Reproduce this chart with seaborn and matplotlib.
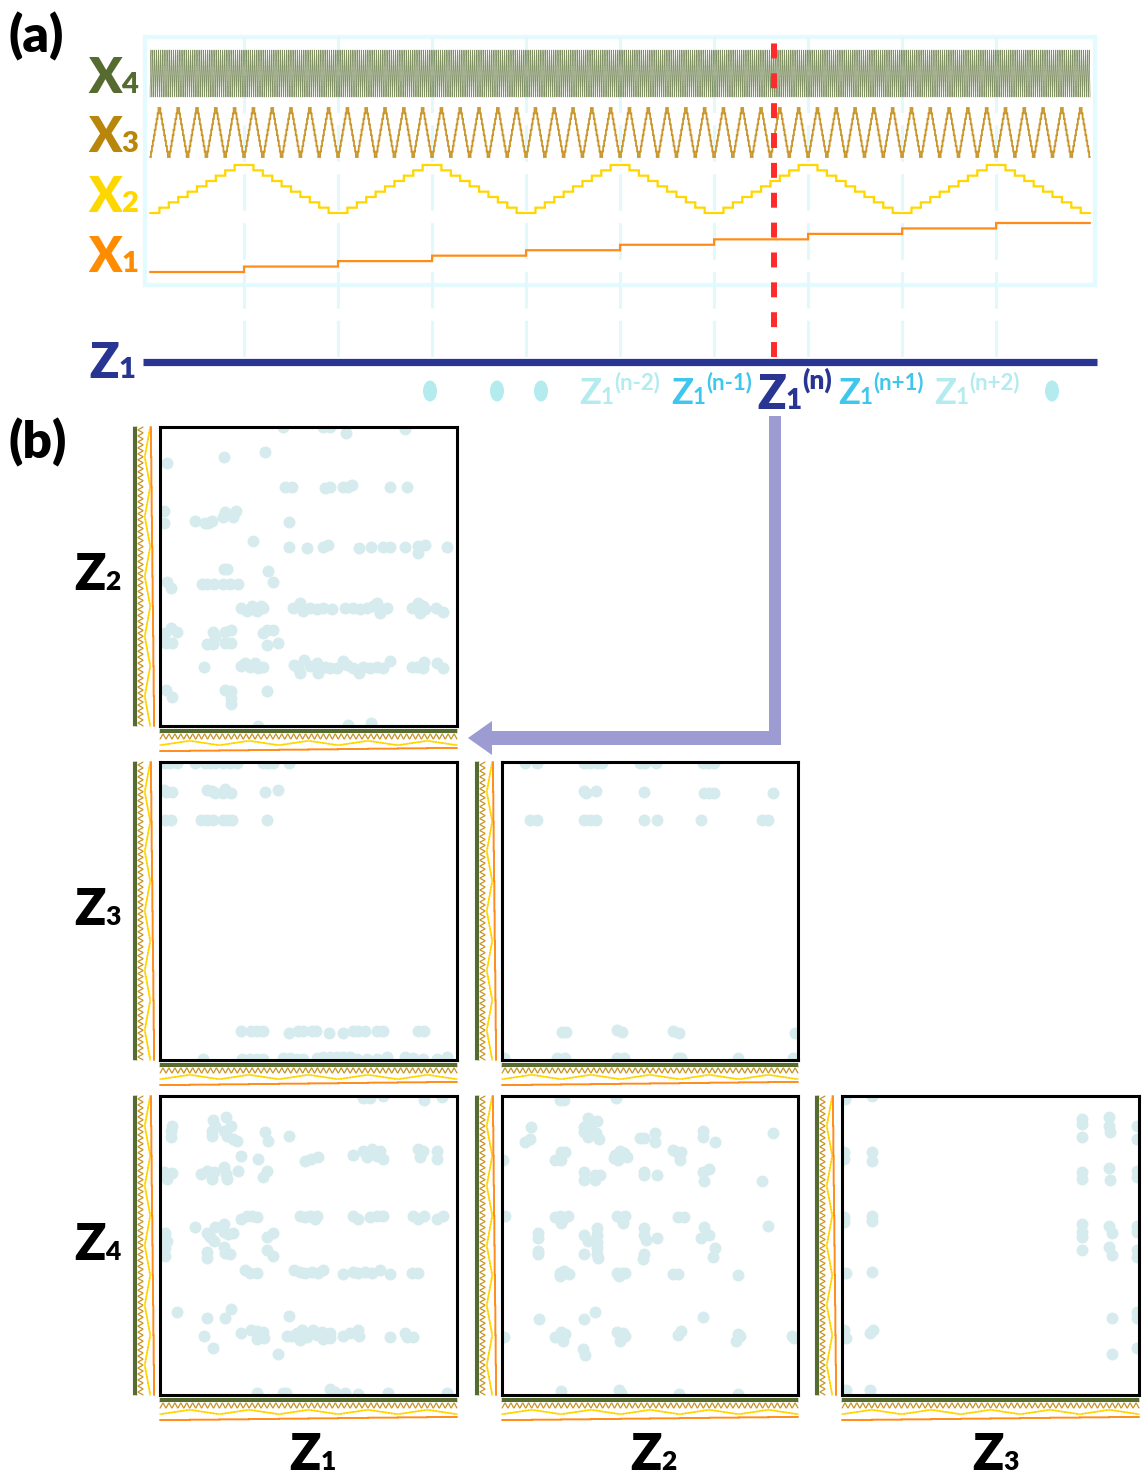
import numpy as np
import pandas as pd
import matplotlib
matplotlib.use("Agg")
import matplotlib.pyplot as plt
import seaborn as sns
from matplotlib.patches import Rectangle, Polygon, Ellipse

sns.set_theme(style="white")
plt.rcParams["font.family"] = ["Lato", "DejaVu Sans"]

W, H = 1148, 1476

# ---------------- data ----------------
x1_levels = [0, 1, 2, 3, 4, 5, 6, 7, 8, 9]
x2_levels = [0, 1, 2, 3, 4, 5, 6, 7, 8, 9]
x3_levels = [0, 1, 2, 3, 4, 5, 6, 7, 8, 9]
x4_levels = [0, 1, 2, 3, 4, 5, 6, 7, 8, 9]
cursor_step = 6633  # sample marked by the red dashed line (Z1^(n))

z2_vs_z1 = [(123,298),(163,298),(170,298),(186,292),(245,296),(105,273),(64,268),(7,262),
            (125,238),(132,238),(165,237),(170,238),(183,238),(188,238),(192,240),(230,238),(247,238),
            (4,214),(4,202),(65,213),(63,208),(73,208),(76,214),(35,204),(45,202),(48,202),(52,204),(129,203),
            (93,184),(129,178),(147,177),(163,178),(168,180),(199,177),(211,178),(223,178),(230,178),(245,178),
            (258,179),(258,172),(265,180),(287,178),(64,156),(67,156),(108,154),(113,144),
            (7,144),(11,138),(42,142),(47,142),(54,142),(63,142),(70,142),(78,142),
            (81,118),(87,115),(92,120),(97,115),(101,120),(103,118),(133,118),(140,123),(143,115),(150,118),
            (157,117),(163,118),(172,117),(185,118),(193,118),(200,117),(207,118),(213,120),(217,123),(220,113),
            (227,118),(252,118),(258,123),(263,120),(260,113),(265,117),(276,118),(283,114),
            (5,93),(11,98),(17,94),(53,94),(55,89),(65,94),(71,96),(103,93),(107,96),(113,96),
            (6,83),(12,83),(47,82),(53,82),(65,83),(71,83),(107,81),(118,83),
            (44,59),(81,60),(85,63),(90,59),(95,63),(98,58),(103,59),(134,61),(138,58),(144,66),(150,60),
            (157,63),(158,53),(165,59),(170,58),(177,58),(183,65),(187,61),(193,58),(199,53),(203,59),(210,58),
            (217,59),(223,58),(230,65),(252,59),(257,59),(264,64),(263,58),(277,63),(283,58),(140,53),
            (6,36),(12,29),(65,36),(71,35),(71,28),(71,22),(107,35),(98,0),(188,1),(211,3)]

z3_vs_z1 = [(5,297),(10,297),(17,297),(35,297),(45,297),(50,297),(55,297),(63,297),(70,297),(77,297),
            (103,297),(108,297),(113,297),(129,297),
            (4,270),(6,268),(12,268),(47,270),(52,269),(55,267),(63,267),(65,271),(71,267),(105,268),(118,270),
            (5,240),(11,240),(41,240),(47,240),(53,240),(63,240),(67,240),(72,240),(107,240),
            (81,29),(91,29),(97,29),(103,29),(129,27),(138,29),(143,29),(152,29),(156,29),(169,27),(183,27),
            (193,29),(198,29),(205,29),(217,29),(223,29),(258,29),(264,29),
            (43,1),(82,1),(90,1),(97,1),(103,1),(123,2),(130,2),(137,1),(143,1),(157,2),(163,3),(170,3),
            (177,3),(183,3),(190,3),(197,1),(207,1),(217,1),(227,3),(245,3),(253,2),(263,1),(277,1),(287,3)]

z3_vs_z2 = [(23,297),(35,297),(82,297),(88,297),(95,297),(100,297),(138,297),(143,297),(155,297),
            (202,297),(207,297),(213,297),
            (82,269),(84,267),(94,269),(142,268),(203,267),(208,267),(213,267),(272,267),
            (28,240),(35,240),(82,240),(88,240),(94,240),(142,240),(156,240),(200,240),(261,240),(267,240),
            (60,28),(64,28),(115,30),(120,28),(172,29),(178,27),(294,27),
            (2,2),(55,2),(63,2),(115,2),(122,2),(177,2),(180,2),(237,2),(292,2)]

z4_vs_z1 = [(203,296),(210,296),(223,298),(264,294),(282,297),
            (12,268),(11,263),(11,257),(53,274),(66,277),(55,268),(52,263),(52,258),(71,268),(64,263),
            (67,258),(73,255),(77,253),(105,262),(108,253),(129,258),
            (81,238),(98,235),(145,233),(151,235),(158,237),(193,239),(203,243),(207,237),(212,245),
            (217,238),(220,243),(223,235),(258,245),(263,243),(260,237),(277,243),(277,235),
            (4,222),(7,215),(12,221),(41,220),(47,223),(52,215),(54,222),(64,227),(66,220),(67,215),
            (78,223),(103,217),(107,223),
            (81,175),(87,178),(92,178),(97,177),(140,178),(145,177),(150,178),(155,175),(157,178),
            (193,178),(198,175),(210,177),(217,178),(223,178),(253,178),(258,175),(264,178),(277,175),(283,178),
            (35,167),(5,161),(7,153),(5,147),(5,139),(47,161),(50,157),(55,167),(64,170),(64,162),(68,160),
            (73,161),(54,153),(64,148),(65,142),(70,141),(47,143),(47,137),(107,157),(113,161),(107,145),(113,139),
            (85,125),(90,122),(97,122),(134,125),(140,123),(145,122),(152,123),(158,122),(163,125),
            (183,121),(193,123),(198,122),(205,123),(212,122),(220,125),(230,121),(252,122),(258,122),
            (17,83),(47,77),(65,77),(71,86),(129,79),
            (44,59),(81,62),(91,65),(97,64),(103,63),(97,56),(104,57),(127,59),(132,59),(137,62),(142,65),
            (147,58),(153,65),(157,60),(162,63),(163,56),(170,62),(170,57),(183,59),(190,62),(198,65),
            (199,59),(230,58),(245,62),(247,58),(253,58),(140,55),(53,47),(118,41),
            (97,2),(123,2),(126,2),(170,6),(175,3),(185,2),(198,1),(228,2),(287,2)]

z4_vs_z2 = [(58,294),(62,294),(114,296),(29,267),(23,252),(28,255),(86,276),(95,273),(82,267),(88,267),
            (82,262),(94,261),(86,257),(97,255),(138,256),(142,256),(154,261),(154,252),(202,263),(202,257),
            (214,252),(272,261),
            (1,234),(53,234),(59,234),(59,242),(63,242),(113,239),(116,234),(118,243),(122,241),(125,237),
            (112,236),(172,244),(177,241),(179,234),(180,242),
            (82,222),(82,214),(93,219),(98,219),(93,214),(142,222),(142,219),(156,219),(202,222),(208,225),
            (203,213),(261,213),
            (3,178),(53,177),(58,178),(62,176),(66,178),(59,171),(115,178),(119,176),(123,178),(121,171),
            (177,177),(183,177),(267,168),
            (36,161),(36,156),(36,144),(36,141),(82,159),(86,153),(95,166),(95,159),(95,152),(95,147),
            (95,141),(96,137),(82,141),(142,166),(142,159),(144,154),(142,141),(141,136),(156,156),
            (203,167),(208,159),(200,156),(214,147),(212,138),
            (58,122),(62,124),(67,121),(58,119),(115,122),(120,122),(123,122),(117,119),(172,121),(177,121),(237,120),
            (37,76),(82,76),(93,83),(202,78),
            (2,58),(53,58),(59,63),(63,61),(61,54),(115,63),(121,62),(123,59),(118,54),(177,60),(180,64),
            (237,61),(235,54),(239,59),(291,59),(293,57),(81,46),(83,40),
            (59,4),(117,5),(119,2),(178,1),(237,1)]

z4_vs_z3 = [(3,295),(30,298),
            (2,242),(2,235),(2,177),(2,172),(4,122),(2,65),(4,57),(4,5),
            (30,242),(30,233),(30,178),(30,173),(30,123),(28,62),(31,65),(28,5),
            (240,275),(240,270),(240,257),(240,222),(240,215),(240,170),(240,162),(240,157),(240,145),
            (267,277),(267,268),(268,262),(267,226),(268,214),(267,168),(270,161),(267,148),(270,140),
            (270,77),(270,41),
            (295,268),(295,255),(295,223),(295,217),(295,168),(295,162),(295,145),(295,138),(295,83),
            (295,77),(295,47)]

# ---------------- the boustrophedon sweep of the four inputs ----------------
n1, n2, n3, n4 = len(x1_levels), len(x2_levels), len(x3_levels), len(x4_levels)
N = n1 * n2 * n3 * n4
idx = np.arange(N)
i1 = idx // (n2 * n3 * n4)
i2 = (idx // (n3 * n4)) % n2
i3 = (idx // n4) % n3
i4 = idx % n4
i2 = np.where(i1 % 2 == 0, i2, n2 - 1 - i2)
i3 = np.where((idx // (n3 * n4)) % 2 == 0, i3, n3 - 1 - i3)
i4 = np.where((idx // n4) % 2 == 0, i4, n4 - 1 - i4)
sweep = pd.DataFrame({
    "t": idx,
    "X1": np.asarray(x1_levels)[i1],
    "X2": np.asarray(x2_levels)[i2],
    "X3": np.asarray(x3_levels)[i3],
    "X4": np.asarray(x4_levels)[i4],
})
segment_starts = sweep.loc[sweep["X1"].diff().fillna(0) != 0, "t"].tolist()

# ---------------- styling ----------------
C_X4, C_X3, C_X2, C_X1 = "#556b2f", "#c9972e", "#ffd600", "#ff8c1a"
L_X4, L_X3, L_X2, L_X1 = "#556b2f", "#b8860b", "#ffd700", "#ff8c00"
C_Z = "#283593"
C_LIGHT = "#b3ebef"
C_MID = "#3fc6ec"
C_DOT = "#d6ebed"
C_GRID = "#e2f9fc"

fig = plt.figure(figsize=(W / 100, H / 100), dpi=100, facecolor="white")


def px_axes(x0, y0, x1, y1, z=1):
    ax = fig.add_axes([x0 / W, 1 - y1 / H, (x1 - x0) / W, (y1 - y0) / H], zorder=z)
    ax.set_facecolor("none")
    return ax


def full_overlay(z):
    ax = fig.add_axes([0, 0, 1, 1], zorder=z)
    ax.set_xlim(0, W)
    ax.set_ylim(H, 0)
    ax.axis("off")
    ax.set_facecolor("none")
    return ax


bg = full_overlay(0)
fg = full_overlay(6)


def draw_signal(ax, name, color, lw, vertical=False, steps=False, alpha=1.0):
    kw = dict(color=color, linewidth=lw, estimator=None, sort=False, legend=False, ax=ax, alpha=alpha)
    if steps:
        kw["drawstyle"] = "steps-post"
    if vertical:
        sns.lineplot(data=sweep, x=name, y="t", orient="y", **kw)
        ax.set_ylim(0, N - 1)
        ax.set_xlim(max(x1_levels), 0)
    else:
        sns.lineplot(data=sweep, x="t", y=name, **kw)
        ax.set_xlim(0, N - 1)
        ax.set_ylim(0, max(x1_levels))
    for ln in ax.lines:
        ln.set_clip_on(False)
        ln.set_solid_joinstyle("miter")
    ax.axis("off")


# ---------------- panel (a) ----------------
bg.add_patch(Rectangle((145, 37), 950, 248, fill=False, ec="#e3fbfe", lw=3.0))
ax_grid = px_axes(150, 37, 1090, 357, z=0.5)
ax_grid.set_xlim(0, N - 1)
ax_grid.set_ylim(0, 1)
ax_grid.axis("off")
for s in segment_starts:
    ax_grid.axvline(s, color=C_GRID, lw=2.2, dashes=(12, 4))

sig_rows = [("X4", C_X4, 0.5, 50, 97, 0.75), ("X3", C_X3, 1.3, 108, 157, 1.0),
            ("X2", C_X2, 1.6, 165, 213, 1.0), ("X1", C_X1, 1.6, 223, 272, 1.0)]
for name, col, lw, y0, y1, al in sig_rows:
    ax = px_axes(150, y0, 1090, y1, z=2)
    draw_signal(ax, name, col, lw, steps=True, alpha=al)

ax_cur = px_axes(150, 41, 1090, 357, z=5)
ax_cur.set_xlim(0, N - 1)
ax_cur.set_ylim(0, 1)
ax_cur.axis("off")
ax_cur.axvline(cursor_step, color="#ff2b2b", lw=4.3, dashes=(2.5, 2.5), solid_capstyle="butt",
               dash_capstyle="butt")

fg.plot([143, 1097], [362, 362], color=C_Z, lw=5.2, solid_capstyle="butt")

renderer = fig.canvas.get_renderer()


def compound(ax, x, y, parts, color, weight="bold"):
    cx = x
    for txt, size, dy in parts:
        t = ax.text(cx, y + dy, txt, fontsize=size, color=color, fontweight=weight,
                    ha="left", va="baseline")
        cx += t.get_window_extent(renderer=renderer).width


compound(fg, 88, 93, [("X", 35, 0), ("4", 21, 0)], L_X4, weight="heavy")
compound(fg, 88, 152, [("X", 35, 0), ("3", 21, 0)], L_X3, weight="heavy")
compound(fg, 88, 212, [("X", 35, 0), ("2", 21, 0)], L_X2, weight="heavy")
compound(fg, 88, 272, [("X", 35, 0), ("1", 21, 0)], L_X1, weight="heavy")
compound(fg, 89, 378, [("Z", 35, 0), ("1", 21, 0)], C_Z, weight="heavy")

fg.text(8, 52, "(a)", fontsize=37, fontweight="heavy", color="black", ha="left", va="baseline")
fg.text(8, 458, "(b)", fontsize=37, fontweight="heavy", color="black", ha="left", va="baseline")

for cx in [430, 497, 541, 1052]:
    fg.add_patch(Ellipse((cx, 391), 14, 21, fc=C_LIGHT, ec="none"))

compound(fg, 579, 404, [("Z", 26, 0), ("1", 16, 0), ("(n-2)", 16, -15)], C_LIGHT)
compound(fg, 671, 404, [("Z", 26, 0), ("1", 16, 0), ("(n-1)", 16, -15)], C_MID)
compound(fg, 757, 409, [("Z", 34, 0), ("1", 20, 0), ("(n)", 19, -20)], C_Z, weight="heavy")
compound(fg, 838, 404, [("Z", 26, 0), ("1", 16, 0), ("(n+1)", 16, -15)], C_MID)
compound(fg, 934, 404, [("Z", 26, 0), ("1", 16, 0), ("(n+2)", 16, -15)], C_LIGHT)

# arrow from Z1(n) to the Z2-Z1 panel
fg.add_patch(Polygon([(769, 416), (781, 416), (781, 745), (492, 745), (492, 755), (468, 738),
                      (492, 721), (492, 731), (769, 731)], closed=True, fc="#9c9cd3", ec="none"))

# ---------------- panel (b) ----------------
cols_px = [(160, 457), (502, 798), (842, 1139)]
rows_px = [(427, 726), (762, 1060), (1096, 1395)]
panel_data = {(0, 0): z2_vs_z1, (1, 0): z3_vs_z1, (1, 1): z3_vs_z2,
              (2, 0): z4_vs_z1, (2, 1): z4_vs_z2, (2, 2): z4_vs_z3}

bottom_bands = [("X4", C_X4, 0.6, 3, 7), ("X3", C_X3, 0.8, 8, 13),
                ("X2", C_X2, 1.1, 15, 19), ("X1", C_X1, 1.4, 22, 25)]
left_bands = [("X4", C_X4, 0.6, -27, -23), ("X3", C_X3, 0.8, -22, -17),
              ("X2", C_X2, 1.1, -15, -10), ("X1", C_X1, 1.4, -9, -6)]

for (r, c), pts in panel_data.items():
    xl, xr = cols_px[c]
    yt, yb = rows_px[r]
    ax = px_axes(xl, yt, xr, yb, z=3)
    df = pd.DataFrame(pts, columns=["u", "v"])
    sns.scatterplot(data=df, x="u", y="v", ax=ax, color=C_DOT, s=74, linewidth=0, legend=False)
    ax.set_xlim(0, 297)
    ax.set_ylim(0, 298)
    ax.set_xticks([])
    ax.set_yticks([])
    ax.set_xlabel("")
    ax.set_ylabel("")
    for sp in ax.spines.values():
        sp.set_visible(True)
        sp.set_color("black")
        sp.set_linewidth(2.2)
    for name, col, lw, a, b in bottom_bands:
        sax = px_axes(xl, yb + a, xr, yb + b, z=2)
        draw_signal(sax, name, col, lw)
    for name, col, lw, a, b in left_bands:
        sax = px_axes(xl + a, yt, xl + b, yb, z=2)
        draw_signal(sax, name, col, lw, vertical=True)

compound(fg, 289, 1470, [("Z", 37, 0), ("1", 19, 0)], "black", weight="heavy")
compound(fg, 630, 1470, [("Z", 37, 0), ("2", 19, 0)], "black", weight="heavy")
compound(fg, 972, 1470, [("Z", 37, 0), ("3", 19, 0)], "black", weight="heavy")
compound(fg, 74, 590, [("Z", 37, 0), ("2", 19, 0)], "black", weight="heavy")
compound(fg, 74, 925, [("Z", 37, 0), ("3", 19, 0)], "black", weight="heavy")
compound(fg, 74, 1260, [("Z", 37, 0), ("4", 19, 0)], "black", weight="heavy")

fig.savefig("out.png", dpi=100, facecolor="white")
